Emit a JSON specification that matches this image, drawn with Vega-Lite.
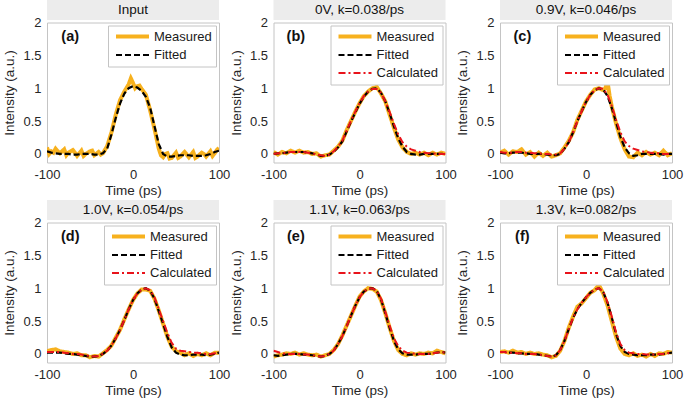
{
"$schema":"https://vega.github.io/schema/vega-lite/v6.json",
"background":"white",
"padding":{"left":2,"top":0,"right":0,"bottom":0},
"config":{
 "font":"Liberation Sans",
 "view":{"stroke":"#c4c4c4"},
 "axis":{"labelFontSize":13,"titleFontSize":13.5,"titleFontWeight":"normal","labelColor":"#262626","titleColor":"#262626","domain":false,"ticks":false,"grid":false,"labelPadding":6,"labelFlush":false,"labelOverlap":false,"labelExpr":"''+datum.value"},
 "axisY":{"titlePadding":6},
 "axisX":{"titlePadding":2},
 "legend":{"orient":"top-right","offset":3,"fillColor":"white","strokeColor":"#c4c4c4","padding":4,"labelFontSize":13,"labelColor":"#1a1a1a","symbolType":"M-3.3,0H3.3","symbolSize":100,"symbolOffset":13.5,"labelOffset":14.5,"rowPadding":4}
},
"datasets":{"d":[
{"p":"a","t":-100,"M":0.1,"F":0.04},{"p":"a","t":-97.5,"M":0.0},{"p":"a","t":-95,"M":0.04,"F":0.02},{"p":"a","t":-92.5,"M":0.02},{"p":"a","t":-90,"M":0.08,"F":0.01},{"p":"a","t":-87.5,"M":0.04},{"p":"a","t":-85,"M":0.01,"F":0.0},{"p":"a","t":-80,"M":0.07,"F":0.0},{"p":"a","t":-77.5,"M":-0.02},{"p":"a","t":-75,"M":0.02,"F":0.0},{"p":"a","t":-70,"M":0.06,"F":-0.01},{"p":"a","t":-67.5,"M":0.02},{"p":"a","t":-65,"M":-0.03,"F":-0.01},{"p":"a","t":-60,"M":0.05,"F":0.0},{"p":"a","t":-57.5,"M":-0.03},{"p":"a","t":-55,"M":0.0,"F":0.0},{"p":"a","t":-50,"M":0.04,"F":0.0},{"p":"a","t":-47.5,"M":0.05},{"p":"a","t":-45,"M":-0.02,"F":-0.01},{"p":"a","t":-40,"M":0.03,"F":-0.01},{"p":"a","t":-37.5,"M":-0.01},{"p":"a","t":-35,"M":0.01,"F":0.01},{"p":"a","t":-30,"M":0.12,"F":0.08},{"p":"a","t":-25,"M":0.33,"F":0.3},{"p":"a","t":-20,"M":0.6,"F":0.55},{"p":"a","t":-15,"M":0.82,"F":0.77},{"p":"a","t":-10,"M":0.95,"F":0.92},{"p":"a","t":-5,"M":1.06,"F":1.0},{"p":"a","t":-2.5,"M":1.15},{"p":"a","t":0,"M":1.08,"F":1.03},{"p":"a","t":2.5,"M":1.0},{"p":"a","t":5,"M":1.03,"F":1.01},{"p":"a","t":7.5,"M":1.04},{"p":"a","t":10,"M":0.99,"F":0.96},{"p":"a","t":15,"M":0.9,"F":0.87},{"p":"a","t":20,"M":0.66,"F":0.7},{"p":"a","t":25,"M":0.38,"F":0.42},{"p":"a","t":30,"M":0.08,"F":0.15},{"p":"a","t":32.5,"M":-0.02},{"p":"a","t":35,"M":-0.05,"F":0.0},{"p":"a","t":37.5,"M":0.0},{"p":"a","t":40,"M":0.01,"F":-0.04},{"p":"a","t":42.5,"M":-0.07},{"p":"a","t":45,"M":-0.06,"F":-0.04},{"p":"a","t":50,"M":0.02,"F":-0.03},{"p":"a","t":52.5,"M":-0.06},{"p":"a","t":55,"M":-0.04,"F":-0.02},{"p":"a","t":60,"M":0.03,"F":-0.02},{"p":"a","t":62.5,"M":-0.01},{"p":"a","t":65,"M":-0.05,"F":-0.02},{"p":"a","t":70,"M":0.03,"F":-0.03},{"p":"a","t":72.5,"M":-0.06},{"p":"a","t":75,"M":-0.04,"F":-0.03},{"p":"a","t":80,"M":0.02,"F":-0.03},{"p":"a","t":82.5,"M":0.0},{"p":"a","t":85,"M":-0.04,"F":-0.02},{"p":"a","t":90,"M":0.04,"F":0.0},{"p":"a","t":92.5,"M":-0.03},{"p":"a","t":95,"M":0.01,"F":0.03},{"p":"a","t":97.5,"M":0.06},{"p":"a","t":100,"M":0.09,"F":0.05},
{"p":"b","t":-100,"M":0.03,"F":0.0,"C":0.0},{"p":"b","t":-95,"M":-0.01,"F":0.01,"C":0.01},{"p":"b","t":-90,"M":0.03,"F":0.01,"C":0.01},{"p":"b","t":-85,"M":0.01,"F":0.02,"C":0.02},{"p":"b","t":-80,"M":0.05,"F":0.03,"C":0.03},{"p":"b","t":-75,"M":0.02,"F":0.03,"C":0.03},{"p":"b","t":-70,"M":0.05,"F":0.03,"C":0.03},{"p":"b","t":-65,"M":0.02,"F":0.03,"C":0.03},{"p":"b","t":-60,"M":0.03,"F":0.02,"C":0.02},{"p":"b","t":-55,"M":0.0,"F":0.01,"C":0.01},{"p":"b","t":-50,"M":0.01,"F":-0.01,"C":-0.01},{"p":"b","t":-45,"M":-0.04,"F":-0.03,"C":-0.02},{"p":"b","t":-40,"M":-0.02,"F":-0.03,"C":-0.03},{"p":"b","t":-35,"M":-0.01,"F":-0.01,"C":-0.01},{"p":"b","t":-30,"M":0.05,"F":0.03,"C":0.04},{"p":"b","t":-25,"M":0.11,"F":0.1,"C":0.11},{"p":"b","t":-20,"M":0.2,"F":0.19,"C":0.2},{"p":"b","t":-15,"M":0.36,"F":0.34,"C":0.35},{"p":"b","t":-10,"M":0.5,"F":0.49,"C":0.5},{"p":"b","t":-5,"M":0.64,"F":0.63,"C":0.64},{"p":"b","t":0,"M":0.77,"F":0.76,"C":0.77},{"p":"b","t":5,"M":0.88,"F":0.87,"C":0.88},{"p":"b","t":10,"M":0.95,"F":0.95,"C":0.95},{"p":"b","t":15,"M":1.0,"F":0.99,"C":0.99},{"p":"b","t":20,"M":1.02,"F":1.0,"C":0.99},{"p":"b","t":25,"M":0.92,"F":0.93,"C":0.93},{"p":"b","t":30,"M":0.8,"F":0.8,"C":0.8},{"p":"b","t":35,"M":0.6,"F":0.62,"C":0.64},{"p":"b","t":40,"M":0.4,"F":0.42,"C":0.46},{"p":"b","t":45,"M":0.22,"F":0.24,"C":0.3},{"p":"b","t":50,"M":0.1,"F":0.11,"C":0.18},{"p":"b","t":55,"M":0.03,"F":0.03,"C":0.11},{"p":"b","t":60,"M":0.0,"F":0.0,"C":0.07},{"p":"b","t":65,"M":0.02,"F":-0.01,"C":0.05},{"p":"b","t":70,"M":-0.01,"F":-0.01,"C":0.03},{"p":"b","t":75,"M":0.02,"F":0.0,"C":0.02},{"p":"b","t":80,"M":-0.02,"F":0.0,"C":0.01},{"p":"b","t":85,"M":0.02,"F":0.0,"C":0.01},{"p":"b","t":90,"M":-0.01,"F":0.0,"C":0.0},{"p":"b","t":95,"M":0.02,"F":0.0,"C":0.0},{"p":"b","t":100,"M":0.0,"F":0.0,"C":0.0},
{"p":"c","t":-100,"M":0.02,"F":0.02,"C":0.03},{"p":"c","t":-95,"M":0.05,"F":0.01,"C":0.02},{"p":"c","t":-90,"M":-0.01,"F":0.01,"C":0.02},{"p":"c","t":-85,"M":0.04,"F":0.02,"C":0.02},{"p":"c","t":-80,"M":0.03,"F":0.02,"C":0.03},{"p":"c","t":-75,"M":0.07,"F":0.02,"C":0.03},{"p":"c","t":-70,"M":-0.01,"F":0.01,"C":0.02},{"p":"c","t":-65,"M":0.03,"F":0.0,"C":0.02},{"p":"c","t":-60,"M":-0.04,"F":0.0,"C":0.01},{"p":"c","t":-55,"M":0.02,"F":0.0,"C":0.01},{"p":"c","t":-50,"M":-0.03,"F":0.0,"C":0.0},{"p":"c","t":-45,"M":0.02,"F":-0.01,"C":0.0},{"p":"c","t":-40,"M":-0.04,"F":-0.02,"C":-0.01},{"p":"c","t":-35,"M":-0.02,"F":-0.02,"C":-0.01},{"p":"c","t":-30,"M":0.01,"F":0.0,"C":0.01},{"p":"c","t":-25,"M":0.1,"F":0.08,"C":0.08},{"p":"c","t":-20,"M":0.2,"F":0.18,"C":0.18},{"p":"c","t":-15,"M":0.33,"F":0.33,"C":0.33},{"p":"c","t":-10,"M":0.52,"F":0.5,"C":0.5},{"p":"c","t":-5,"M":0.66,"F":0.65,"C":0.65},{"p":"c","t":0,"M":0.8,"F":0.79,"C":0.79},{"p":"c","t":5,"M":0.9,"F":0.9,"C":0.9},{"p":"c","t":10,"M":0.98,"F":0.97,"C":0.97},{"p":"c","t":15,"M":1.0,"F":1.0,"C":1.0},{"p":"c","t":20,"M":0.97,"F":0.98,"C":0.99},{"p":"c","t":22.5,"M":1.0},{"p":"c","t":25,"M":1.1,"F":0.88,"C":0.9},{"p":"c","t":27.5,"M":0.88},{"p":"c","t":30,"M":0.72,"F":0.7,"C":0.73},{"p":"c","t":35,"M":0.46,"F":0.48,"C":0.52},{"p":"c","t":40,"M":0.24,"F":0.26,"C":0.33},{"p":"c","t":45,"M":0.07,"F":0.1,"C":0.19},{"p":"c","t":50,"M":-0.04,"F":0.01,"C":0.12},{"p":"c","t":55,"M":-0.05,"F":-0.03,"C":0.08},{"p":"c","t":60,"M":0.02,"F":-0.02,"C":0.06},{"p":"c","t":65,"M":-0.02,"F":0.0,"C":0.04},{"p":"c","t":70,"M":0.03,"F":0.0,"C":0.03},{"p":"c","t":75,"M":-0.01,"F":0.0,"C":0.02},{"p":"c","t":80,"M":0.02,"F":0.0,"C":0.01},{"p":"c","t":85,"M":-0.02,"F":0.0,"C":0.01},{"p":"c","t":90,"M":0.05,"F":-0.01,"C":0.0},{"p":"c","t":95,"M":-0.02,"F":0.0,"C":0.0},{"p":"c","t":100,"M":0.01,"F":0.0,"C":0.0},
{"p":"d","t":-100,"M":0.04,"F":0.02,"C":0.03},{"p":"d","t":-95,"M":0.06,"F":0.02,"C":0.03},{"p":"d","t":-90,"M":0.07,"F":0.02,"C":0.03},{"p":"d","t":-85,"M":0.04,"F":0.02,"C":0.03},{"p":"d","t":-80,"M":0.03,"F":0.01,"C":0.02},{"p":"d","t":-75,"M":0.02,"F":0.0,"C":0.01},{"p":"d","t":-70,"M":0.0,"F":0.0,"C":0.0},{"p":"d","t":-65,"M":0.01,"F":-0.01,"C":0.0},{"p":"d","t":-60,"M":-0.02,"F":-0.02,"C":-0.01},{"p":"d","t":-55,"M":-0.02,"F":-0.03,"C":-0.02},{"p":"d","t":-50,"M":-0.05,"F":-0.04,"C":-0.03},{"p":"d","t":-45,"M":-0.03,"F":-0.04,"C":-0.04},{"p":"d","t":-40,"M":-0.04,"F":-0.03,"C":-0.03},{"p":"d","t":-35,"M":0.01,"F":0.0,"C":0.0},{"p":"d","t":-30,"M":0.06,"F":0.05,"C":0.05},{"p":"d","t":-25,"M":0.13,"F":0.13,"C":0.13},{"p":"d","t":-20,"M":0.25,"F":0.24,"C":0.24},{"p":"d","t":-15,"M":0.37,"F":0.37,"C":0.37},{"p":"d","t":-10,"M":0.53,"F":0.52,"C":0.52},{"p":"d","t":-5,"M":0.68,"F":0.68,"C":0.68},{"p":"d","t":0,"M":0.82,"F":0.82,"C":0.82},{"p":"d","t":5,"M":0.92,"F":0.92,"C":0.92},{"p":"d","t":10,"M":0.98,"F":0.98,"C":0.98},{"p":"d","t":15,"M":0.98,"F":1.0,"C":1.0},{"p":"d","t":20,"M":0.96,"F":0.96,"C":0.97},{"p":"d","t":25,"M":0.84,"F":0.84,"C":0.86},{"p":"d","t":30,"M":0.66,"F":0.65,"C":0.68},{"p":"d","t":35,"M":0.46,"F":0.46,"C":0.5},{"p":"d","t":40,"M":0.26,"F":0.26,"C":0.32},{"p":"d","t":45,"M":0.11,"F":0.1,"C":0.17},{"p":"d","t":50,"M":0.04,"F":0.02,"C":0.08},{"p":"d","t":55,"M":0.02,"F":-0.01,"C":0.05},{"p":"d","t":60,"M":-0.02,"F":-0.02,"C":0.04},{"p":"d","t":65,"M":0.01,"F":-0.02,"C":0.03},{"p":"d","t":70,"M":-0.03,"F":-0.01,"C":0.02},{"p":"d","t":75,"M":0.0,"F":-0.01,"C":0.02},{"p":"d","t":80,"M":-0.02,"F":-0.01,"C":0.01},{"p":"d","t":85,"M":0.01,"F":-0.02,"C":0.0},{"p":"d","t":90,"M":-0.02,"F":-0.01,"C":0.0},{"p":"d","t":95,"M":0.02,"F":0.0,"C":0.01},{"p":"d","t":100,"M":0.02,"F":0.02,"C":0.02},
{"p":"e","t":-100,"M":-0.04,"F":-0.02,"C":0.05},{"p":"e","t":-95,"M":-0.02,"F":-0.03,"C":0.03},{"p":"e","t":-90,"M":-0.01,"F":-0.02,"C":0.01},{"p":"e","t":-85,"M":0.01,"F":-0.01,"C":0.0},{"p":"e","t":-80,"M":0.0,"F":0.0,"C":0.0},{"p":"e","t":-75,"M":0.02,"F":0.0,"C":0.0},{"p":"e","t":-70,"M":-0.01,"F":0.0,"C":0.0},{"p":"e","t":-65,"M":0.01,"F":-0.01,"C":-0.01},{"p":"e","t":-60,"M":-0.01,"F":-0.01,"C":-0.01},{"p":"e","t":-55,"M":-0.02,"F":-0.02,"C":-0.02},{"p":"e","t":-50,"M":-0.01,"F":-0.03,"C":-0.03},{"p":"e","t":-45,"M":-0.04,"F":-0.04,"C":-0.04},{"p":"e","t":-40,"M":-0.02,"F":-0.03,"C":-0.03},{"p":"e","t":-35,"M":0.0,"F":0.0,"C":0.0},{"p":"e","t":-30,"M":0.06,"F":0.05,"C":0.05},{"p":"e","t":-25,"M":0.15,"F":0.15,"C":0.15},{"p":"e","t":-20,"M":0.28,"F":0.27,"C":0.27},{"p":"e","t":-15,"M":0.43,"F":0.42,"C":0.42},{"p":"e","t":-10,"M":0.58,"F":0.58,"C":0.58},{"p":"e","t":-5,"M":0.73,"F":0.73,"C":0.73},{"p":"e","t":0,"M":0.87,"F":0.86,"C":0.86},{"p":"e","t":5,"M":0.95,"F":0.95,"C":0.95},{"p":"e","t":10,"M":1.0,"F":0.99,"C":0.99},{"p":"e","t":15,"M":0.99,"F":1.0,"C":1.0},{"p":"e","t":20,"M":0.95,"F":0.96,"C":0.96},{"p":"e","t":25,"M":0.82,"F":0.83,"C":0.84},{"p":"e","t":30,"M":0.62,"F":0.62,"C":0.64},{"p":"e","t":35,"M":0.4,"F":0.4,"C":0.43},{"p":"e","t":40,"M":0.2,"F":0.2,"C":0.24},{"p":"e","t":45,"M":0.06,"F":0.07,"C":0.12},{"p":"e","t":50,"M":0.0,"F":0.01,"C":0.05},{"p":"e","t":55,"M":-0.02,"F":-0.01,"C":0.02},{"p":"e","t":60,"M":0.01,"F":-0.01,"C":0.01},{"p":"e","t":65,"M":-0.01,"F":-0.01,"C":0.0},{"p":"e","t":70,"M":0.01,"F":0.0,"C":0.0},{"p":"e","t":75,"M":0.0,"F":0.0,"C":0.0},{"p":"e","t":80,"M":0.02,"F":0.0,"C":0.0},{"p":"e","t":85,"M":0.01,"F":0.01,"C":0.01},{"p":"e","t":90,"M":0.05,"F":0.02,"C":0.02},{"p":"e","t":95,"M":0.03,"F":0.03,"C":0.03},{"p":"e","t":100,"M":0.01,"F":0.02,"C":0.02},
{"p":"f","t":-100,"M":0.03,"F":0.03,"C":0.03},{"p":"f","t":-95,"M":0.04,"F":0.03,"C":0.03},{"p":"f","t":-90,"M":0.02,"F":0.02,"C":0.02},{"p":"f","t":-85,"M":0.05,"F":0.02,"C":0.02},{"p":"f","t":-80,"M":0.02,"F":0.01,"C":0.01},{"p":"f","t":-75,"M":0.03,"F":0.01,"C":0.01},{"p":"f","t":-70,"M":0.0,"F":0.0,"C":0.0},{"p":"f","t":-65,"M":0.02,"F":0.0,"C":0.0},{"p":"f","t":-60,"M":0.0,"F":0.0,"C":0.0},{"p":"f","t":-55,"M":0.01,"F":-0.01,"C":-0.01},{"p":"f","t":-50,"M":-0.01,"F":-0.02,"C":-0.02},{"p":"f","t":-45,"M":-0.02,"F":-0.03,"C":-0.03},{"p":"f","t":-40,"M":-0.05,"F":-0.04,"C":-0.04},{"p":"f","t":-35,"M":-0.03,"F":-0.02,"C":-0.02},{"p":"f","t":-30,"M":0.05,"F":0.06,"C":0.06},{"p":"f","t":-25,"M":0.2,"F":0.2,"C":0.2},{"p":"f","t":-20,"M":0.4,"F":0.38,"C":0.38},{"p":"f","t":-15,"M":0.57,"F":0.55,"C":0.55},{"p":"f","t":-10,"M":0.72,"F":0.68,"C":0.68},{"p":"f","t":-5,"M":0.77,"F":0.78,"C":0.78},{"p":"f","t":0,"M":0.85,"F":0.86,"C":0.86},{"p":"f","t":5,"M":0.93,"F":0.93,"C":0.93},{"p":"f","t":10,"M":0.97,"F":0.98,"C":0.98},{"p":"f","t":15,"M":1.05,"F":1.0,"C":1.0},{"p":"f","t":20,"M":0.92,"F":0.94,"C":0.95},{"p":"f","t":25,"M":0.74,"F":0.78,"C":0.79},{"p":"f","t":30,"M":0.5,"F":0.55,"C":0.57},{"p":"f","t":35,"M":0.26,"F":0.3,"C":0.33},{"p":"f","t":40,"M":0.08,"F":0.12,"C":0.15},{"p":"f","t":45,"M":0.0,"F":0.03,"C":0.06},{"p":"f","t":50,"M":-0.02,"F":0.0,"C":0.02},{"p":"f","t":55,"M":0.01,"F":-0.01,"C":0.01},{"p":"f","t":60,"M":-0.03,"F":-0.02,"C":0.0},{"p":"f","t":65,"M":-0.01,"F":-0.02,"C":0.0},{"p":"f","t":70,"M":-0.04,"F":-0.02,"C":-0.01},{"p":"f","t":75,"M":0.0,"F":-0.01,"C":-0.01},{"p":"f","t":80,"M":-0.03,"F":-0.01,"C":-0.01},{"p":"f","t":85,"M":0.01,"F":-0.01,"C":0.0},{"p":"f","t":90,"M":0.0,"F":0.0,"C":0.0},{"p":"f","t":95,"M":0.03,"F":0.01,"C":0.01},{"p":"f","t":100,"M":0.02,"F":0.02,"C":0.02}
]},
"spacing":2,
"resolve":{"scale":{"color":"independent","strokeDash":"independent","strokeWidth":"independent"},"legend":{"color":"independent","strokeDash":"independent","strokeWidth":"independent"}},
"vconcat":[
{"spacing":-2.5,"resolve":{"scale":{"color":"independent","strokeDash":"independent","strokeWidth":"independent"},"legend":{"color":"independent","strokeDash":"independent","strokeWidth":"independent"}},
 "hconcat":[
 {"spacing":2.5,"bounds":"flush","resolve":{"scale":{"color":"independent","strokeDash":"independent","strokeWidth":"independent"},"legend":{"color":"independent","strokeDash":"independent","strokeWidth":"independent"}},"vconcat":[
  {"width":172,"height":20,"view":{"fill":"#ececec","stroke":null},"data":{"values":[{"t":"Input"}]},"mark":{"type":"text","fontSize":13.5,"color":"#111111"},"encoding":{"text":{"field":"t"}}},
  {"width":172,"height":140,
   "encoding":{
     "x":{"field":"t","type":"quantitative","title":"Time (ps)","scale":{"domain":[-100,100]},"axis":{"values":[-100,0,100]}},
     "y":{"field":"v","type":"quantitative","title":"Intensity (a.u.)","scale":{"domain":[-0.13,2]},"axis":{"values":[0,0.5,1,1.5,2]}}},
   "layer":[
   {"data":{"name":"d"},"transform":[{"filter":"datum.p=='a'"},{"fold":["M","F"],"as":["s","v"]},{"filter":"isValid(datum.v)"}],
    "mark":{"type":"line","clip":true},
    "encoding":{
     "color":{"field":"s","type":"nominal","scale":{"domain":["M","F"],"range":["#F7B11E","#000000"]},"legend":{"title":null,"orient":"top-right","labelExpr":"datum.label=='M'?'Measured':datum.label=='F'?'Fitted':'Calculated'"}},
     "strokeDash":{"field":"s","type":"nominal","scale":{"domain":["M","F"],"range":[[1,0],[6,3]]},"legend":{"title":null,"orient":"top-right","labelExpr":"datum.label=='M'?'Measured':datum.label=='F'?'Fitted':'Calculated'"}},
     "strokeWidth":{"field":"s","type":"nominal","scale":{"type":"ordinal","domain":["M","F"],"range":[4,2.2]},"legend":{"title":null,"orient":"top-right","labelExpr":"datum.label=='M'?'Measured':datum.label=='F'?'Fitted':'Calculated'"}}
    }},
   {"data":{"values":[{"t":-73,"v":1.78,"l":"(a)"}]},"mark":{"type":"text","fontWeight":"bold","fontSize":14.5,"color":"#111111"},"encoding":{"text":{"field":"l"}}}
  ]}
 ]},
 {"spacing":2.5,"bounds":"flush","resolve":{"scale":{"color":"independent","strokeDash":"independent","strokeWidth":"independent"},"legend":{"color":"independent","strokeDash":"independent","strokeWidth":"independent"}},"vconcat":[
  {"width":172,"height":20,"view":{"fill":"#ececec","stroke":null},"data":{"values":[{"t":"0V, k=0.038/ps"}]},"mark":{"type":"text","fontSize":13.5,"color":"#111111"},"encoding":{"text":{"field":"t"}}},
  {"width":172,"height":140,
   "encoding":{
     "x":{"field":"t","type":"quantitative","title":"Time (ps)","scale":{"domain":[-100,100]},"axis":{"values":[-100,0,100]}},
     "y":{"field":"v","type":"quantitative","title":"Intensity (a.u.)","scale":{"domain":[-0.13,2]},"axis":{"values":[0,0.5,1,1.5,2]}}},
   "layer":[
   {"data":{"name":"d"},"transform":[{"filter":"datum.p=='b'"},{"fold":["M","F","C"],"as":["s","v"]},{"filter":"isValid(datum.v)"}],
    "mark":{"type":"line","clip":true},
    "encoding":{
     "color":{"field":"s","type":"nominal","scale":{"domain":["M","F","C"],"range":["#F7B11E","#000000","#E8131B"]},"legend":{"title":null,"orient":"top-right","labelExpr":"datum.label=='M'?'Measured':datum.label=='F'?'Fitted':'Calculated'"}},
     "strokeDash":{"field":"s","type":"nominal","scale":{"domain":["M","F","C"],"range":[[1,0],[6,3],[7,3,2,3]]},"legend":{"title":null,"orient":"top-right","labelExpr":"datum.label=='M'?'Measured':datum.label=='F'?'Fitted':'Calculated'"}},
     "strokeWidth":{"field":"s","type":"nominal","scale":{"type":"ordinal","domain":["M","F","C"],"range":[4,2.2,2]},"legend":{"title":null,"orient":"top-right","labelExpr":"datum.label=='M'?'Measured':datum.label=='F'?'Fitted':'Calculated'"}}
    }},
   {"data":{"values":[{"t":-74,"v":1.78,"l":"(b)"}]},"mark":{"type":"text","fontWeight":"bold","fontSize":14.5,"color":"#111111"},"encoding":{"text":{"field":"l"}}}
  ]}
 ]},
 {"spacing":2.5,"bounds":"flush","resolve":{"scale":{"color":"independent","strokeDash":"independent","strokeWidth":"independent"},"legend":{"color":"independent","strokeDash":"independent","strokeWidth":"independent"}},"vconcat":[
  {"width":172,"height":20,"view":{"fill":"#ececec","stroke":null},"data":{"values":[{"t":"0.9V, k=0.046/ps"}]},"mark":{"type":"text","fontSize":13.5,"color":"#111111"},"encoding":{"text":{"field":"t"}}},
  {"width":172,"height":140,
   "encoding":{
     "x":{"field":"t","type":"quantitative","title":"Time (ps)","scale":{"domain":[-100,100]},"axis":{"values":[-100,0,100]}},
     "y":{"field":"v","type":"quantitative","title":"Intensity (a.u.)","scale":{"domain":[-0.13,2]},"axis":{"values":[0,0.5,1,1.5,2]}}},
   "layer":[
   {"data":{"name":"d"},"transform":[{"filter":"datum.p=='c'"},{"fold":["M","F","C"],"as":["s","v"]},{"filter":"isValid(datum.v)"}],
    "mark":{"type":"line","clip":true},
    "encoding":{
     "color":{"field":"s","type":"nominal","scale":{"domain":["M","F","C"],"range":["#F7B11E","#000000","#E8131B"]},"legend":{"title":null,"orient":"top-right","labelExpr":"datum.label=='M'?'Measured':datum.label=='F'?'Fitted':'Calculated'"}},
     "strokeDash":{"field":"s","type":"nominal","scale":{"domain":["M","F","C"],"range":[[1,0],[6,3],[7,3,2,3]]},"legend":{"title":null,"orient":"top-right","labelExpr":"datum.label=='M'?'Measured':datum.label=='F'?'Fitted':'Calculated'"}},
     "strokeWidth":{"field":"s","type":"nominal","scale":{"type":"ordinal","domain":["M","F","C"],"range":[4,2.2,2]},"legend":{"title":null,"orient":"top-right","labelExpr":"datum.label=='M'?'Measured':datum.label=='F'?'Fitted':'Calculated'"}}
    }},
   {"data":{"values":[{"t":-74,"v":1.78,"l":"(c)"}]},"mark":{"type":"text","fontWeight":"bold","fontSize":14.5,"color":"#111111"},"encoding":{"text":{"field":"l"}}}
  ]}
 ]}
 ]},
{"spacing":-2.5,"resolve":{"scale":{"color":"independent","strokeDash":"independent","strokeWidth":"independent"},"legend":{"color":"independent","strokeDash":"independent","strokeWidth":"independent"}},
 "hconcat":[
 {"spacing":2.5,"bounds":"flush","resolve":{"scale":{"color":"independent","strokeDash":"independent","strokeWidth":"independent"},"legend":{"color":"independent","strokeDash":"independent","strokeWidth":"independent"}},"vconcat":[
  {"width":172,"height":20,"view":{"fill":"#ececec","stroke":null},"data":{"values":[{"t":"1.0V, k=0.054/ps"}]},"mark":{"type":"text","fontSize":13.5,"color":"#111111"},"encoding":{"text":{"field":"t"}}},
  {"width":172,"height":140,
   "encoding":{
     "x":{"field":"t","type":"quantitative","title":"Time (ps)","scale":{"domain":[-100,100]},"axis":{"values":[-100,0,100]}},
     "y":{"field":"v","type":"quantitative","title":"Intensity (a.u.)","scale":{"domain":[-0.13,2]},"axis":{"values":[0,0.5,1,1.5,2]}}},
   "layer":[
   {"data":{"name":"d"},"transform":[{"filter":"datum.p=='d'"},{"fold":["M","F","C"],"as":["s","v"]},{"filter":"isValid(datum.v)"}],
    "mark":{"type":"line","clip":true},
    "encoding":{
     "color":{"field":"s","type":"nominal","scale":{"domain":["M","F","C"],"range":["#F7B11E","#000000","#E8131B"]},"legend":{"title":null,"orient":"top-right","labelExpr":"datum.label=='M'?'Measured':datum.label=='F'?'Fitted':'Calculated'"}},
     "strokeDash":{"field":"s","type":"nominal","scale":{"domain":["M","F","C"],"range":[[1,0],[6,3],[7,3,2,3]]},"legend":{"title":null,"orient":"top-right","labelExpr":"datum.label=='M'?'Measured':datum.label=='F'?'Fitted':'Calculated'"}},
     "strokeWidth":{"field":"s","type":"nominal","scale":{"type":"ordinal","domain":["M","F","C"],"range":[4,2.2,2]},"legend":{"title":null,"orient":"top-right","labelExpr":"datum.label=='M'?'Measured':datum.label=='F'?'Fitted':'Calculated'"}}
    }},
   {"data":{"values":[{"t":-73,"v":1.78,"l":"(d)"}]},"mark":{"type":"text","fontWeight":"bold","fontSize":14.5,"color":"#111111"},"encoding":{"text":{"field":"l"}}}
  ]}
 ]},
 {"spacing":2.5,"bounds":"flush","resolve":{"scale":{"color":"independent","strokeDash":"independent","strokeWidth":"independent"},"legend":{"color":"independent","strokeDash":"independent","strokeWidth":"independent"}},"vconcat":[
  {"width":172,"height":20,"view":{"fill":"#ececec","stroke":null},"data":{"values":[{"t":"1.1V, k=0.063/ps"}]},"mark":{"type":"text","fontSize":13.5,"color":"#111111"},"encoding":{"text":{"field":"t"}}},
  {"width":172,"height":140,
   "encoding":{
     "x":{"field":"t","type":"quantitative","title":"Time (ps)","scale":{"domain":[-100,100]},"axis":{"values":[-100,0,100]}},
     "y":{"field":"v","type":"quantitative","title":"Intensity (a.u.)","scale":{"domain":[-0.13,2]},"axis":{"values":[0,0.5,1,1.5,2]}}},
   "layer":[
   {"data":{"name":"d"},"transform":[{"filter":"datum.p=='e'"},{"fold":["M","F","C"],"as":["s","v"]},{"filter":"isValid(datum.v)"}],
    "mark":{"type":"line","clip":true},
    "encoding":{
     "color":{"field":"s","type":"nominal","scale":{"domain":["M","F","C"],"range":["#F7B11E","#000000","#E8131B"]},"legend":{"title":null,"orient":"top-right","labelExpr":"datum.label=='M'?'Measured':datum.label=='F'?'Fitted':'Calculated'"}},
     "strokeDash":{"field":"s","type":"nominal","scale":{"domain":["M","F","C"],"range":[[1,0],[6,3],[7,3,2,3]]},"legend":{"title":null,"orient":"top-right","labelExpr":"datum.label=='M'?'Measured':datum.label=='F'?'Fitted':'Calculated'"}},
     "strokeWidth":{"field":"s","type":"nominal","scale":{"type":"ordinal","domain":["M","F","C"],"range":[4,2.2,2]},"legend":{"title":null,"orient":"top-right","labelExpr":"datum.label=='M'?'Measured':datum.label=='F'?'Fitted':'Calculated'"}}
    }},
   {"data":{"values":[{"t":-74,"v":1.78,"l":"(e)"}]},"mark":{"type":"text","fontWeight":"bold","fontSize":14.5,"color":"#111111"},"encoding":{"text":{"field":"l"}}}
  ]}
 ]},
 {"spacing":2.5,"bounds":"flush","resolve":{"scale":{"color":"independent","strokeDash":"independent","strokeWidth":"independent"},"legend":{"color":"independent","strokeDash":"independent","strokeWidth":"independent"}},"vconcat":[
  {"width":172,"height":20,"view":{"fill":"#ececec","stroke":null},"data":{"values":[{"t":"1.3V, k=0.082/ps"}]},"mark":{"type":"text","fontSize":13.5,"color":"#111111"},"encoding":{"text":{"field":"t"}}},
  {"width":172,"height":140,
   "encoding":{
     "x":{"field":"t","type":"quantitative","title":"Time (ps)","scale":{"domain":[-100,100]},"axis":{"values":[-100,0,100]}},
     "y":{"field":"v","type":"quantitative","title":"Intensity (a.u.)","scale":{"domain":[-0.13,2]},"axis":{"values":[0,0.5,1,1.5,2]}}},
   "layer":[
   {"data":{"name":"d"},"transform":[{"filter":"datum.p=='f'"},{"fold":["M","F","C"],"as":["s","v"]},{"filter":"isValid(datum.v)"}],
    "mark":{"type":"line","clip":true},
    "encoding":{
     "color":{"field":"s","type":"nominal","scale":{"domain":["M","F","C"],"range":["#F7B11E","#000000","#E8131B"]},"legend":{"title":null,"orient":"top-right","labelExpr":"datum.label=='M'?'Measured':datum.label=='F'?'Fitted':'Calculated'"}},
     "strokeDash":{"field":"s","type":"nominal","scale":{"domain":["M","F","C"],"range":[[1,0],[6,3],[7,3,2,3]]},"legend":{"title":null,"orient":"top-right","labelExpr":"datum.label=='M'?'Measured':datum.label=='F'?'Fitted':'Calculated'"}},
     "strokeWidth":{"field":"s","type":"nominal","scale":{"type":"ordinal","domain":["M","F","C"],"range":[4,2.2,2]},"legend":{"title":null,"orient":"top-right","labelExpr":"datum.label=='M'?'Measured':datum.label=='F'?'Fitted':'Calculated'"}}
    }},
   {"data":{"values":[{"t":-74,"v":1.78,"l":"(f)"}]},"mark":{"type":"text","fontWeight":"bold","fontSize":14.5,"color":"#111111"},"encoding":{"text":{"field":"l"}}}
  ]}
 ]}
 ]}
]
}
